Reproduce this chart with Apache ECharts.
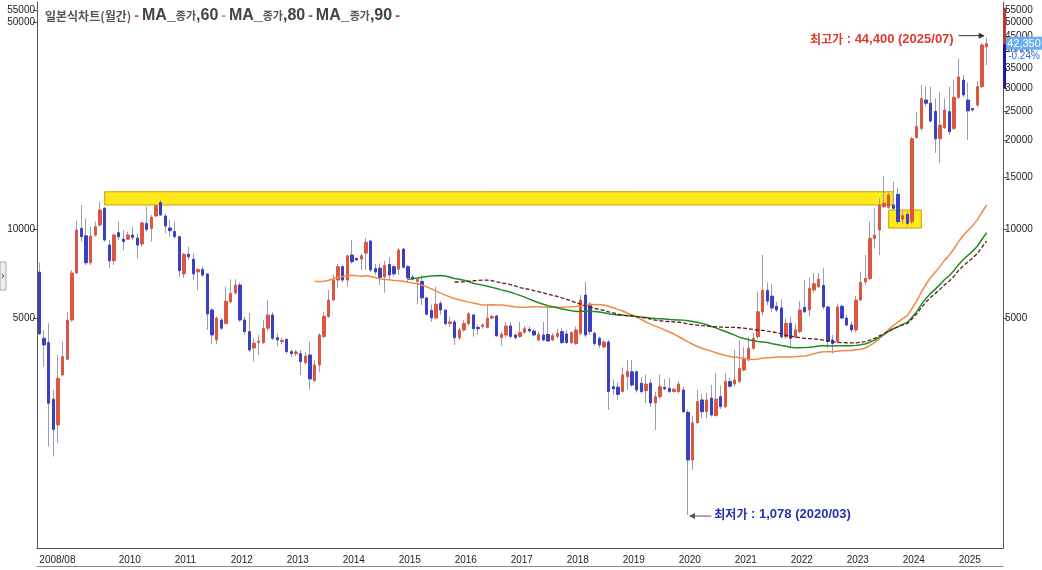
<!DOCTYPE html>
<html><head><meta charset="utf-8">
<script src="https://cdn.jsdelivr.net/npm/echarts@6/dist/echarts.min.js"></script>
<style>html,body{margin:0;padding:0;background:#fff}#c{width:1042px;height:570px}</style>
</head><body><div id="c"></div>
<script>
// ---- categories: monthly, 2008/08 .. 2025/10 (last 3 slots empty) ----
const startYear = 2008, startMonth = 8, totalSlots = 207;
const categories = [];
for (let k = 0; k < totalSlots; k++) {
  const m = startMonth - 1 + k;
  categories.push((startYear + Math.floor(m / 12)) + '/' + String(m % 12 + 1).padStart(2, '0'));
}

// ---- monthly OHLC ----
const openP = [7150,4270,4130,2655,2174,3209,3627,4924,7100,10050,9490,7690,9550,10320,11750,8829,7810,9720,9240,9240,
9544,9320,8900,10450,10050,11070,12300,11070,10080,9820,9420,7050,8220,7910,7160,7300,7050,5323,4214,4924,
4790,5670,6080,6467,4924,4500,3960,4140,4130,4620,5120,4290,4160,4240,3850,3790,3790,3530,3750,3070,
3469,4330,5060,5754,6723,7460,6723,8168,7960,7910,8290,9110,7350,7370,6880,7590,7460,7320,8560,7460,
6880,6650,6650,5850,5300,5000,5600,5323,4790,4850,4290,4556,4790,5120,4650,4680,4650,5000,5080,4290,
4382,4700,4382,4330,4470,4580,4520,4214,4382,4400,4214,4330,4500,4420,4130,4100,4440,5982,5570,4440,
4270,3990,4150,2930,2920,2820,3168,3290,3290,3010,2840,3010,2580,2710,2910,2890,2820,2820,2855,2400,
1656,2210,2642,2410,2680,2340,2710,2510,3050,2990,3050,3336,3607,3950,4320,5250,6200,5930,5480,5410,
4320,4800,4320,4500,5430,5323,6220,6380,6440,5450,4214,4170,5480,5000,4736,4556,5754,6630,6800,9300,
9922,11900,11850,12060,13100,10800,11200,10590,20400,21900,27310,26640,25000,20200,22000,24950,21900,27900,31910,27310,
25550,26270,30300,41300];
const closeP = [4420,4053,2575,2100,3127,3700,4924,7100,9920,9420,7690,9470,10180,11600,9180,7810,9544,9420,9070,9544,
9370,8829,10490,9975,10960,11990,11160,10240,9870,9420,7230,8220,8060,7050,7300,6990,5160,4382,5000,4620,
5700,6060,6467,4924,4500,3899,4110,4180,4620,5120,4270,4214,4200,3850,3790,3840,3560,3720,3110,3469,
4382,5060,5754,6723,7460,6723,8120,7750,7856,8120,9020,7268,7160,6860,7530,6990,7050,8490,7430,6840,
6760,6760,5850,5150,5000,5560,5323,4790,4850,4290,4556,4790,5170,4600,4600,4736,4990,5060,4350,4400,
4700,4330,4290,4470,4600,4520,4382,4400,4214,4180,4360,4440,4130,4130,4470,4556,5754,4382,4500,4100,
4053,4150,2820,2880,2760,3209,3300,2969,2855,2820,2990,2580,2710,2930,2880,2820,2870,2990,2410,1656,
2210,2610,2410,2642,2350,2660,2510,3050,2940,3087,3380,3650,3950,4270,5250,6200,5700,5410,5323,4320,
4800,4270,4556,5323,5250,6300,6530,6760,5450,4170,4100,5450,5000,4736,4556,5754,6600,6800,9300,9544,
12060,12230,13040,11750,10590,11100,10450,20200,22200,27600,26640,23200,20200,22480,25270,21350,27900,32700,28400,25100,
25270,30300,41910,42350];
const lowP = [4380,3420,1837,1700,1885,3170,3607,4860,7040,9060,7556,7556,9420,10180,9060,7370,7556,9180,8490,9180,
9180,7960,8700,9800,9060,11000,11070,9680,9420,9300,6900,6830,7856,6723,6220,6880,4556,4085,4085,4556,
4760,5600,6000,4850,4382,3840,3560,3750,4085,4500,4214,4020,4080,3780,3690,3720,3209,3480,2855,3050,
3290,4270,5000,5720,6300,6600,6380,7640,7800,7268,7268,7160,6990,6467,6090,6723,6900,6990,7350,6630,
6700,5570,5534,5100,4850,4990,5130,4720,4660,4053,4200,4500,4700,4320,4400,4600,4620,4950,4330,4030,
4300,4270,4230,4290,4420,4470,4330,4170,4170,4160,4170,4270,4085,4085,4085,4053,4382,4300,4382,4020,
3960,3960,2444,2746,2650,2800,2855,2930,2800,2780,2580,2500,2091,2660,2850,2790,2800,2780,2380,1078,
1532,2200,2290,2290,2320,2320,2460,2480,2900,2940,3010,3300,3570,3900,4250,5100,5530,5250,5230,4250,
4250,3950,4250,4440,5200,5060,6100,6300,5350,3950,3790,4100,4950,4680,4470,4470,5700,6467,6723,8600,
8168,11750,11700,11600,10400,10400,10250,10400,20200,21500,26000,22900,18100,16700,21800,20800,21600,27500,27900,20000,
25000,25800,30000,35870];
const highP = [7700,4556,4800,2855,3750,4160,5250,7270,10670,12060,10870,10180,10590,12380,11900,9180,9680,10590,9920,9800,
10180,9680,10590,11900,11160,12060,12540,11300,10730,10590,9420,8290,8710,8290,7360,7470,7100,5410,5060,5000,
6380,6770,6770,6600,5060,5200,4280,4382,4924,5754,5250,4430,4300,4250,3920,3900,3899,3830,4160,3600,
4440,5250,6220,6990,7620,7560,8168,9180,8000,8290,9320,9180,7620,7650,7800,8060,7560,8620,8620,7556,
6990,6800,6990,5900,5560,6380,5720,5323,5060,4924,4620,4924,5250,5170,4760,4800,5534,5120,5120,4500,
4850,4850,4440,4850,4700,4680,4600,4500,4850,5410,4440,4600,4620,4556,4500,4680,5982,6630,5650,4500,
4330,4200,4214,3100,3030,3400,3607,3607,3320,3160,3220,3100,2820,3220,3110,3140,2900,3050,2930,2450,
2330,2855,2770,2800,2969,3250,2950,3250,3140,3899,4214,3980,4320,4450,6140,8168,6600,6500,5680,5780,
5000,5060,4800,5700,6723,6850,7100,7100,7370,5500,4380,5600,5560,5120,4850,5950,7160,8168,10590,11750,
12700,15100,13300,14420,13800,11500,11500,20500,24950,30700,30300,30300,27700,29000,27700,30300,31910,37800,33200,31300,
25700,31600,42500,44400];

// ---- moving-average periods, axis ticks, annotations ----
const maPeriods = [60, 80, 90];
const yTicksRight = [5000,10000,15000,20000,25000,30000,35000,40000,45000,50000,55000];
const yTicksLeft = [5000,10000,50000,55000];
const yRange = [834, 58600];
const lastPrice = 42350, lastChangeText = '-0.24%';
const sideBarValues = [56000, 42350, 30000];
const zoneLong = { from: '2009/10', to: '2023/11', low: 12060, high: 13370 };
const zoneSmall = { from: '2023/10', to: '2024/05', low: 10080, high: 11600 };

// ---- derived ----
const nData = closeP.length;
const wickData = openP.map((o, i) => [o, closeP[i], lowP[i], highP[i]]);
const bodyData = openP.map((o, i) => [o, closeP[i], Math.min(o, closeP[i]), Math.max(o, closeP[i])]);
function movingAvg(n) {
  return categories.map((_, i) => {
    if (i < n - 1 || i >= nData) return '-';
    let s = 0; for (let k = i - n + 1; k <= i; k++) s += closeP[k];
    return +(s / n).toFixed(1);
  });
}
const maColors = ['#EE8A45', '#1E8A24', '#5E1E1E'];
const tickShow = (i, v) => i === 0 || (v.endsWith('/01') && !v.startsWith('2009'));

const FONT = '"Liberation Sans", Arial, "Noto Sans CJK KR", sans-serif';
const KFONT = '"Noto Sans CJK KR", "Liberation Sans", sans-serif';

const chart = echarts.init(document.getElementById('c'), null, { renderer: 'canvas' });

const yBase = {
  type: 'log', logBase: 10, min: yRange[0], max: yRange[1],
  splitLine: { show: false },
  axisLine: { show: true, lineStyle: { color: '#555', width: 1 } },
};
const plainNum = v => String(Math.round(v));

const option = {
  backgroundColor: '#fff',
  animation: false,
  title: {
    left: 40, top: 3,
    text: '{a|일본식차트(월간)}{r|-}{b|MA_}{k|종가}{b|,60}{o|-}{b|MA_}{k|종가}{b|,80}{g|-}{b|MA_}{k|종가}{b|,90}{d|-}',
    textStyle: {
      rich: {
        a: { fontFamily: KFONT, fontSize: 12, color: '#555' },
        k: { fontFamily: KFONT, fontSize: 11, color: '#555' },
        b: { fontFamily: FONT, fontSize: 16, fontWeight: 'bold', color: '#444' },
        r: { fontFamily: FONT, fontSize: 14, fontWeight: 'bold', color: '#D9443A', padding: [0, 3] },
        o: { fontFamily: FONT, fontSize: 14, fontWeight: 'bold', color: maColors[0], padding: [0, 3] },
        g: { fontFamily: FONT, fontSize: 14, fontWeight: 'bold', color: maColors[1], padding: [0, 3] },
        d: { fontFamily: FONT, fontSize: 14, fontWeight: 'bold', color: '#C0392B', padding: [0, 3] }
      }
    }
  },
  grid: { left: 37, right: 39, top: 2, bottom: 22, containLabel: false },
  xAxis: [
    {
      type: 'category', data: categories, boundaryGap: true,
      axisLine: { lineStyle: { color: '#555' } },
      axisTick: { interval: tickShow, length: 18, lineStyle: { color: '#555' } },
      axisLabel: {
        interval: tickShow, align: 'left', margin: 7,
        formatter: (v, i) => (i === 0 ? v : v.slice(0, 4)),
        fontFamily: FONT, fontSize: 10, color: '#222'
      },
      splitLine: { show: false }
    },
    {
      type: 'category', data: categories, position: 'bottom', offset: 18,
      axisLine: { lineStyle: { color: '#888' } }, axisTick: { show: false }, axisLabel: { show: false }
    }
  ],
  yAxis: [
    Object.assign({}, yBase, {
      position: 'left',
      axisTick: { show: true, length: 4, customValues: yTicksLeft, lineStyle: { color: '#555' } },
      axisLabel: { customValues: yTicksLeft, formatter: plainNum, fontFamily: FONT, fontSize: 10, color: '#222', margin: 2 }
    }),
    Object.assign({}, yBase, {
      position: 'right',
      axisTick: { show: true, length: 4, customValues: yTicksRight, lineStyle: { color: '#555' } },
      axisLabel: { customValues: yTicksRight, formatter: plainNum, fontFamily: FONT, fontSize: 10, color: '#222', margin: 2 }
    })
  ],
  series: [
    {
      name: 'zones', type: 'line', data: categories.map(() => '-'), z: 1, silent: true,
      markArea: {
        silent: true,
        itemStyle: { color: '#FFE81C', borderColor: '#C9A000', borderWidth: 1 },
        data: [
          [{ xAxis: zoneLong.from, yAxis: zoneLong.high }, { xAxis: zoneLong.to, yAxis: zoneLong.low }],
          [{ xAxis: zoneSmall.from, yAxis: zoneSmall.high }, { xAxis: zoneSmall.to, yAxis: zoneSmall.low }]
        ]
      }
    },
    {
      name: 'wick', type: 'candlestick', data: wickData, barWidth: 1, z: 3, silent: true,
      itemStyle: { color: '#9C9CAE', color0: '#9C9CAE', borderColor: '#9C9CAE', borderColor0: '#9C9CAE', borderWidth: 1 }
    },
    {
      name: '일본식차트(월간)', type: 'candlestick', data: bodyData, barWidth: 3, z: 4, silent: true,
      itemStyle: { color: '#DD563F', color0: '#3A40C2', borderColor: '#DD563F', borderColor0: '#3A40C2', borderWidth: 1 }
    },
    ...maPeriods.map((p, k) => ({
      name: 'MA_종가,' + p, type: 'line', data: movingAvg(p), z: 5, silent: true,
      symbol: 'none', smooth: false,
      lineStyle: { color: maColors[k], width: k === 2 ? 1.3 : 1.5, type: k === 2 ? [4, 2] : 'solid' }
    }))
  ]
};
chart.setOption(option);

// ---- annotations placed through the axes ----
let iMax = 0, iMin = 0;
for (let i = 0; i < nData; i++) {
  if (highP[i] > highP[iMax]) iMax = i;
  if (lowP[i] < lowP[iMin]) iMin = i;
}
const toPx = (i, v) => chart.convertToPixel({ xAxisIndex: 0, yAxisIndex: 0 }, [i, v]);
const toPy = v => chart.convertToPixel({ yAxisIndex: 1 }, v);
const fmt = v => v.toLocaleString('en-US');

const pHi = toPx(iMax, highP[iMax]);
const hiStartX = toPx(iMax - 6, highP[iMax])[0];
const hiY = pHi[1] - 2;
const pLo = toPx(iMin, lowP[iMin]);
const loEndX = toPx(iMin + 5, lowP[iMin])[0];
const loY = pLo[1] + 1;

const gRight = 1042 - 39;
const yTop = toPy(sideBarValues[0]), yMid = toPy(sideBarValues[1]), yBot = toPy(sideBarValues[2]);

chart.setOption({
  graphic: [
    // highest price
    { type: 'line', shape: { x1: hiStartX, y1: hiY, x2: pHi[0] - 3, y2: hiY }, style: { stroke: '#333', lineWidth: 1 }, z: 20 },
    { type: 'polygon', shape: { points: [[pHi[0] - 2, hiY], [pHi[0] - 8, hiY - 3], [pHi[0] - 8, hiY + 3]] }, style: { fill: '#333' }, z: 20 },
    { type: 'text', x: hiStartX - 5, y: hiY + 4, z: 20,
      style: { text: '{k|최고가}{n| : ' + fmt(highP[iMax]) + ' (' + categories[iMax] + ')}', align: 'right', verticalAlign: 'middle',
        rich: { k: { fontFamily: KFONT, fontSize: 12, fill: '#E0392E', fontWeight: 'bold' },
                n: { fontFamily: FONT, fontSize: 13, fill: '#E0392E', fontWeight: 'bold' } } } },
    // lowest price
    { type: 'line', shape: { x1: pLo[0] + 2, y1: loY, x2: loEndX, y2: loY }, style: { stroke: '#555', lineWidth: 1 }, z: 20 },
    { type: 'polygon', shape: { points: [[pLo[0] + 1, loY], [pLo[0] + 7, loY - 3], [pLo[0] + 7, loY + 3]] }, style: { fill: '#555' }, z: 20 },
    { type: 'text', x: loEndX + 3, y: loY - 2, z: 20,
      style: { text: '{k|최저가}{n| : ' + fmt(lowP[iMin]) + ' (' + categories[iMin] + ')}', align: 'left', verticalAlign: 'middle',
        rich: { k: { fontFamily: KFONT, fontSize: 12, fill: '#2433A8', fontWeight: 'bold' },
                n: { fontFamily: FONT, fontSize: 13, fill: '#2433A8', fontWeight: 'bold' } } } },
    // side range bar on the right axis
    { type: 'rect', shape: { x: gRight, y: yTop, width: 3, height: yMid - yTop }, style: { fill: '#C0392B' }, z: 20 },
    { type: 'rect', shape: { x: gRight, y: yMid, width: 3, height: yBot - yMid }, style: { fill: '#1C1C9C' }, z: 20 },
    // last price tag
    { type: 'rect', shape: { x: gRight + 3, y: yMid - 7, width: 36, height: 13 }, style: { fill: '#6AAEF2' }, z: 21 },
    { type: 'text', x: gRight + 21, y: yMid, z: 22,
      style: { text: fmt(lastPrice), align: 'center', verticalAlign: 'middle', fontFamily: FONT, fontSize: 11, fill: '#fff' } },
    { type: 'text', x: gRight + 21, y: yMid + 13, z: 22,
      style: { text: lastChangeText, align: 'center', verticalAlign: 'middle', fontFamily: FONT, fontSize: 10, fill: '#2F6FE0', backgroundColor: '#fff' } },
    // small side handle at the left edge
    { type: 'rect', shape: { x: 0, y: 262, width: 6, height: 28 }, style: { fill: '#eee', stroke: '#aaa', lineWidth: 1 }, z: 20 },
    { type: 'text', x: 3, y: 276, style: { text: '›', align: 'center', verticalAlign: 'middle', fontSize: 10, fill: '#333' }, z: 21 }
  ]
});
</script>
</body></html>
